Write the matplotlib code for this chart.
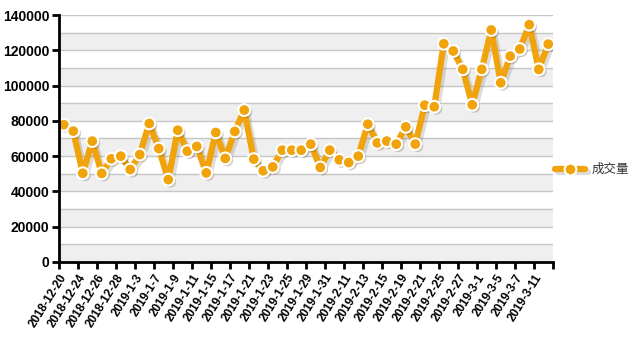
import matplotlib
matplotlib.use("Agg")
import matplotlib.pyplot as plt
import matplotlib.patheffects as pe
import numpy as np

dates = ["2018-12-20", "2018-12-21", "2018-12-24", "2018-12-25", "2018-12-26", "2018-12-27",
         "2018-12-28", "2019-1-2", "2019-1-3", "2019-1-4", "2019-1-7", "2019-1-8",
         "2019-1-9", "2019-1-10", "2019-1-11", "2019-1-14", "2019-1-15", "2019-1-16",
         "2019-1-17", "2019-1-18", "2019-1-21", "2019-1-22", "2019-1-23", "2019-1-24",
         "2019-1-25", "2019-1-28", "2019-1-29", "2019-1-30", "2019-1-31", "2019-2-1",
         "2019-2-11", "2019-2-12", "2019-2-13", "2019-2-14", "2019-2-15", "2019-2-18",
         "2019-2-19", "2019-2-20", "2019-2-21", "2019-2-22", "2019-2-25", "2019-2-26",
         "2019-2-27", "2019-2-28", "2019-3-1", "2019-3-4", "2019-3-5", "2019-3-6",
         "2019-3-7", "2019-3-8", "2019-3-11", "2019-3-12"]

volume = [77800, 74200, 50300, 68500, 50200, 58500, 60000, 52400, 60900, 78500,
          64300, 46700, 74700, 62800, 65500, 50500, 73400, 58700, 74000, 86100,
          58300, 51700, 53900, 63400, 63400, 63400, 66800, 53600, 63400, 57900,
          56400, 60000, 78100, 67500, 68500, 66800, 76600, 66800, 88900, 88000,
          123700, 119600, 109200, 89100, 109200, 131500, 101600, 116700, 120700, 134500,
          109200, 123500]

series_name = "成交量"
y_ticks = [0, 20000, 40000, 60000, 80000, 100000, 120000, 140000]

color = "#F0A30A"

fig = plt.figure(figsize=(6.32, 3.38), dpi=100)
ax = fig.add_axes([0.0934, 0.2249, 0.7816, 0.7307])

n = len(dates)
x = np.arange(n)
ax.set_xlim(-0.5, n - 0.5)
ax.set_ylim(0, 140000)

# alternating bands
for k in range(0, 14, 2):
    ax.axhspan(k * 10000, (k + 1) * 10000, color="#efefef", zorder=0, lw=0)
for v in range(10000, 140001, 10000):
    ax.axhline(v, color="#c6c6c6", lw=1.0, zorder=1)

shadow = [pe.SimpleLineShadow(offset=(2, -2), shadow_color="#666666", alpha=0.22), pe.Normal()]
ax.plot(x, volume, color=color, lw=4.5, zorder=3, solid_joinstyle="round",
        solid_capstyle="round", path_effects=shadow)
ax.plot(x, volume, linestyle="none", marker="o", markersize=8.5, markerfacecolor=color,
        markeredgecolor="white", markeredgewidth=1.5, zorder=4,
        path_effects=[pe.SimplePatchShadow(offset=(1.5, -1.5), alpha=0.22), pe.Normal()])

for s in ["top", "right"]:
    ax.spines[s].set_visible(False)
for s in ["left", "bottom"]:
    ax.spines[s].set_linewidth(2)
    ax.spines[s].set_color("black")
    ax.spines[s].set_zorder(5)

ax.set_yticks(y_ticks)
ax.set_yticklabels([str(v) for v in y_ticks], fontsize=10, fontweight="bold",
                   family="Liberation Sans")
tick_pos = np.arange(-0.5, n, 2)
ax.set_xticks(tick_pos)
labels = [dates[int(p + 0.5)] if int(p + 0.5) < n else "" for p in tick_pos]
ax.set_xticklabels(labels, rotation=58, ha="right", rotation_mode="anchor",
                   fontsize=8.5, fontweight="bold", family="Liberation Sans")
ax.tick_params(axis="both", direction="out", length=5, width=2, color="black", pad=2)

# legend
lx0, lx1, ly = 0.878, 0.926, 0.50
fig.lines.append(plt.Line2D([lx0, lx1], [ly, ly], transform=fig.transFigure, color=color,
                            lw=4.5, solid_capstyle="round", path_effects=shadow))
fig.lines.append(plt.Line2D([(lx0 + lx1) / 2], [ly], transform=fig.transFigure,
                            marker="o", markersize=8.5, markerfacecolor=color,
                            markeredgecolor="white", markeredgewidth=1.5, linestyle="none"))
fig.text(0.936, ly, series_name, va="center", ha="left", fontsize=9,
         family=["Noto Sans CJK SC", "DejaVu Sans"], color="#333333")

fig.savefig("out.png", dpi=100)
